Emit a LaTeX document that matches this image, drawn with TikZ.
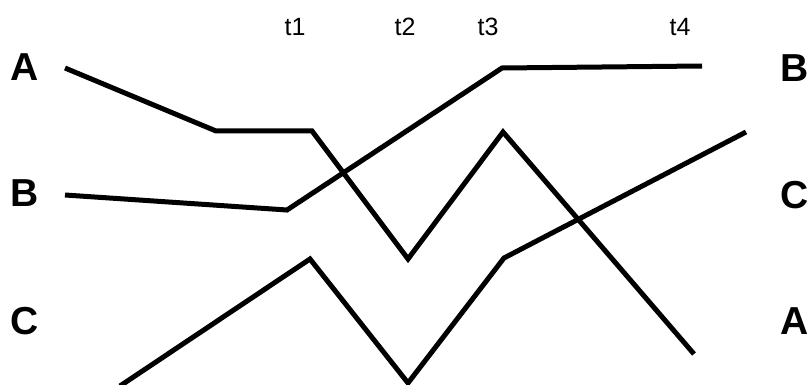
\documentclass[tikz,border=0pt]{standalone}
\usepackage{fontspec}
\setmainfont{Liberation Sans}
\tikzset{
  letterlbl/.style={font=\fontsize{39}{39}\selectfont\bfseries},
  timelbl/.style={font=\fontsize{25}{25}\selectfont},
  track/.style={line width=5pt, line join=miter}
}
\begin{document}
\begin{tikzpicture}[x=1pt,y=-1pt]
    \useasboundingbox (0,0) rectangle (808,385);
    \clip (0,0) rectangle (808,385);
    % time marks
    \node[timelbl] (t1) at (295,27) {t1};
    \node[timelbl] (t2) at (405,27) {t2};
    \node[timelbl] (t3) at (488,27) {t3};
    \node[timelbl] (t4) at (680,27) {t4};
    % start order
    \node[letterlbl] (inA) at (25,67) {A};
    \node[letterlbl] (inB) at (25,193) {B};
    \node[letterlbl] (inC) at (25,321) {C};
    % end order
    \node[letterlbl] (outB) at (795,68) {B};
    \node[letterlbl] (outC) at (795,195) {C};
    \node[letterlbl] (outA) at (795,321) {A};
    % tracks
    \draw[track] (65,68) -- (216,131) -- (312,131) -- (408,259) -- (503,132) -- (694,354);
    \draw[track] (65,195) -- (287,210) -- (502,68) -- (702,66);
    \draw[track] (120,386) -- (310,259) -- (408,383) -- (504,258) -- (746,132);
\end{tikzpicture}
\end{document}
